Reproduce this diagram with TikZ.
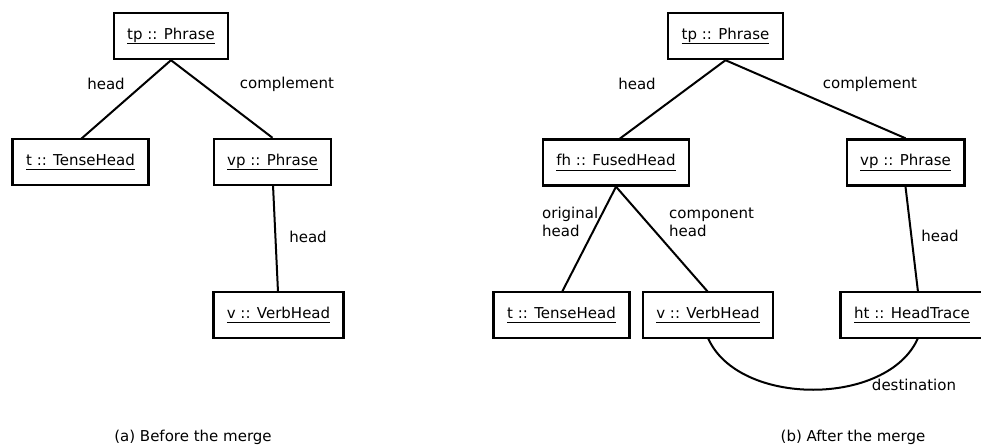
\documentclass[tikz,border=0pt]{standalone}
\usepackage{fontspec}
\setmainfont{DejaVu Sans}
% underline at a fixed depth below the baseline
\newcommand\objname[1]{\setbox0\hbox{#1}\rlap{\rule[-4.6pt]{\wd0}{0.9pt}}\box0}
\begin{document}
\begin{tikzpicture}[x=1pt,y=-1pt,
  font=\fontsize{15}{18}\selectfont,
  obj/.style={draw,line width=2.4pt,minimum height=46pt,inner xsep=13.5pt,inner ysep=0pt},
  link/.style={line width=2pt},
  lbl/.style={inner sep=0pt}]
\useasboundingbox (0,0) rectangle (981,446);

% (a) before the merge
\node[obj] (tpa) at (171,36) {\objname{tp :: Phrase}};
\node[obj] (ta) at (80.5,162) {\objname{t :: TenseHead}};
\node[obj] (vpa) at (272.5,162) {\objname{vp :: Phrase}};
\node[obj] (va) at (278.5,315) {\objname{v :: VerbHead}};
\coordinate (taN) at (81,139);
\coordinate (vpaS) at (273,185);
\coordinate (vaN) at (278,292);
\draw[link] (tpa.south) -- (taN);
\draw[link] (tpa.south) -- (vpa.north);
\draw[link] (vpaS) -- (vaN);
\node[lbl] (la1) at (106,84) {head};
\node[lbl] (la2) at (287,84) {complement};
\node[lbl] (la3) at (308,237) {head};
\node[lbl] (capa) at (193,437) {(a) Before the merge};

% (b) after the merge
\node[obj] (tpb) at (725.5,36) {\objname{tp :: Phrase}};
\node[obj] (fh) at (616,162.5) {\objname{fh :: FusedHead}};
\node[obj] (vpb) at (905.5,162.5) {\objname{vp :: Phrase}};
\node[obj] (tb) at (561.5,315) {\objname{t :: TenseHead}};
\node[obj] (vb) at (708,315) {\objname{v :: VerbHead}};
\node[obj] (ht) at (912,315) {\objname{ht :: HeadTrace}};
\coordinate (fhN) at (618,140);
\coordinate (tbN) at (562,292);
\coordinate (vbN) at (708,292);
\coordinate (htN) at (918,292);
\coordinate (vbS) at (708,338);
\coordinate (htS) at (918,338);
\draw[link] (tpb.south) -- (fhN);
\draw[link] (tpb.south) -- (vpb.north);
\draw[link] (fh.south) -- (tbN);
\draw[link] (fh.south) -- (vbN);
\draw[link] (vpb.south) -- (htN);
\draw[link] (vbS) .. controls (738,407) and (888,407) .. (htS);
\node[lbl] (lb1) at (637,84) {head};
\node[lbl] (lb2) at (870,84) {complement};
\node[lbl,anchor=west,align=left] (lb3) at (542,222) {original\\head};
\node[lbl,anchor=west,align=left] (lb4) at (669,222) {component\\head};
\node[lbl] (lb5) at (940,236) {head};
\node[lbl] (lb6) at (914,385) {destination};
\node[lbl] (capb) at (853,437) {(b) After the merge};
\end{tikzpicture}
\end{document}
